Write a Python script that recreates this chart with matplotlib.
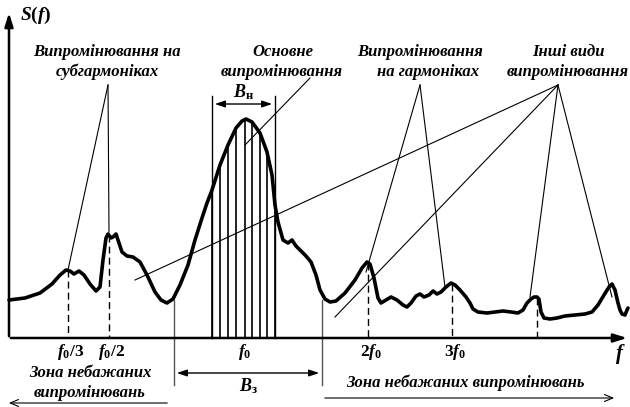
import numpy as np
import matplotlib
matplotlib.use('Agg')
import matplotlib.pyplot as plt

plt.rcParams['font.family'] = ['Liberation Serif', 'DejaVu Serif']
plt.rcParams['mathtext.fontset'] = 'custom'
plt.rcParams['mathtext.it'] = 'Liberation Serif:italic:bold'
plt.rcParams['mathtext.rm'] = 'Liberation Serif:bold'
plt.rcParams['mathtext.bf'] = 'Liberation Serif:bold'

# спектр S(f), координати (0..630 по x, 0..407 по y згори вниз)
curve_x = [9, 25, 40, 52, 60, 66, 70, 74, 79, 84, 90, 96, 100, 103, 106, 108, 111, 113, 116,
           119, 122, 127, 133, 140, 147, 155, 161, 167, 173, 180, 188, 195, 202, 207, 212,
           220, 228, 236, 242, 246, 252, 260, 267, 272, 275, 278, 283, 288, 292, 296, 301,
           306, 311, 316, 320, 325, 330, 336, 345, 355, 362, 367, 370, 374, 378, 381, 386,
           391, 397, 403, 407, 411, 416, 420, 424, 429, 433, 437, 441, 446, 451, 455, 460,
           466, 470, 473, 478, 487, 495, 503, 511, 518, 523, 527, 531, 534, 537, 539, 541,
           544, 550, 557, 565, 575, 585, 592, 598, 604, 609, 612, 615, 618, 620, 622, 625,
           627, 628]
curve_y = [300, 298, 293, 284, 275, 270, 271, 274, 271, 275, 284, 291, 287, 260, 238, 234, 238,
           237, 234, 243, 252, 256, 257, 262, 275, 292, 300, 303, 299, 285, 265, 240, 218, 203,
           190, 165, 145, 128, 121, 119, 122, 133, 152, 175, 205, 222, 240, 243, 240, 246, 251,
           256, 262, 275, 290, 299, 302, 301, 293, 280, 268, 262, 264, 278, 298, 303, 300, 297,
           300, 305, 307, 303, 296, 294, 297, 295, 291, 294, 292, 287, 283, 285, 290, 297, 303,
           309, 312, 313, 312, 311, 312, 313, 310, 303, 299, 297, 297, 299, 312, 318, 319, 318,
           316, 315, 314, 312, 305, 295, 287, 284, 290, 303, 310, 314, 315, 310, 308]

# штрихування основної смуги
hatch_x = [212, 220, 228, 236, 245, 252, 260, 267, 275]

# гармоніки (пунктир): x, висота піку
harm_x = [68, 109, 368, 452, 537]
harm_top = [270, 235, 263, 284, 298]
harm_labels = [r'$f_0/3$', r'$f_0/2$', r'$2f_0$', r'$3f_0$', '']

AXIS_Y = 338

fig = plt.figure(figsize=(6.3, 4.07), dpi=100)
ax = fig.add_axes([0, 0, 1, 1])
ax.set_xlim(0, 630)
ax.set_ylim(407, 0)
ax.axis('off')

# осі
ax.annotate('', xy=(9, 10), xytext=(9, AXIS_Y + 1), annotation_clip=False,
            arrowprops=dict(arrowstyle='-|>,head_length=0.8,head_width=0.25', lw=1.8, color='black'))
ax.annotate('', xy=(630, AXIS_Y), xytext=(8, AXIS_Y), annotation_clip=False,
            arrowprops=dict(arrowstyle='-|>,head_length=0.8,head_width=0.25', lw=1.8, color='black'))
ax.text(20, 15, r'$S(f)$', fontsize=14, ha='left', va='center')
ax.text(620, 354, r'$f$', fontsize=15, ha='center', va='center')

# крива спектра
ax.plot(curve_x, curve_y, color='black', lw=2.6, solid_joinstyle='round', solid_capstyle='round')

# штрихування
hatch_top = np.interp(hatch_x, curve_x, curve_y)
for hx, ht in zip(hatch_x, hatch_top):
    ax.plot([hx, hx], [AXIS_Y, ht], color='black', lw=1.2)
for hx in (hatch_x[0], hatch_x[-1]):
    ax.plot([hx, hx], [AXIS_Y, 96], color='black', lw=1.0)
ax.annotate('', xy=(hatch_x[0], 104), xytext=(hatch_x[-1], 104),
            arrowprops=dict(arrowstyle='<|-|>,head_length=0.6,head_width=0.2', lw=1.0, color='black'))
ax.text(244, 92, r'$B_{\mathrm{н}}$', fontsize=13, ha='center', va='center')
ax.text(245, 352, r'$f_0$', fontsize=12.5, ha='center', va='center')

# смуга B_з
for bx in (174, 322):
    ax.plot([bx, bx], [300, 385], color='#555555', lw=1.0)
ax.annotate('', xy=(174, 373), xytext=(322, 373),
            arrowprops=dict(arrowstyle='<|-|>,head_length=0.6,head_width=0.2', lw=1.0, color='black'))
ax.text(248, 386, r'$B_{\mathrm{з}}$', fontsize=13, ha='center', va='center')

# гармоніки
for hx, ht, lab in zip(harm_x, harm_top, harm_labels):
    ax.plot([hx, hx], [ht, AXIS_Y], color='black', lw=1.0, ls=(0, (5, 3)))
    if lab:
        ax.text(hx + 3, 352, lab, fontsize=12.5, ha='center', va='center')

# підписи та виноски
label_kw = dict(fontsize=12, fontweight='bold', fontstyle='italic', ha='center', va='center')
ax.text(107, 52, 'Випромінювання на', **label_kw)
ax.text(107, 72, 'субгармоніках', **label_kw)
for ex, ey in [(68, 270), (109, 232)]:
    ax.plot([108, ex], [85, ey], color='black', lw=0.8)

ax.text(283, 52, 'Основне', **label_kw)
ax.text(282, 72, 'випромінювання', **label_kw)
ax.plot([310, 245], [78, 145], color='black', lw=0.8)

ax.text(420, 52, 'Випромінювання', **label_kw)
ax.text(428, 72, 'на гармоніках', **label_kw)
for ex, ey in [(366, 272), (445, 287)]:
    ax.plot([420, ex], [85, ey], color='black', lw=0.8)

ax.text(568, 52, 'Інші види', **label_kw)
ax.text(568, 72, 'випромінювання', **label_kw)
for ex, ey in [(135, 280), (335, 317), (530, 297), (612, 297)]:
    ax.plot([558, ex], [85, ey], color='black', lw=0.8)

# зони небажаних випромінювань
ax.text(90, 373, 'Зона небажаних', **label_kw)
ax.text(90, 393, 'випромінювань', **label_kw)
ax.annotate('', xy=(6, 403), xytext=(170, 403),
            arrowprops=dict(arrowstyle='->,head_length=0.6,head_width=0.25', lw=0.8, color='black'))
ax.text(465, 383, 'Зона небажаних випромінювань', **label_kw)
ax.annotate('', xy=(617, 398), xytext=(322, 398),
            arrowprops=dict(arrowstyle='->,head_length=0.6,head_width=0.25', lw=0.8, color='black'))

fig.savefig('out.png', dpi=100)
